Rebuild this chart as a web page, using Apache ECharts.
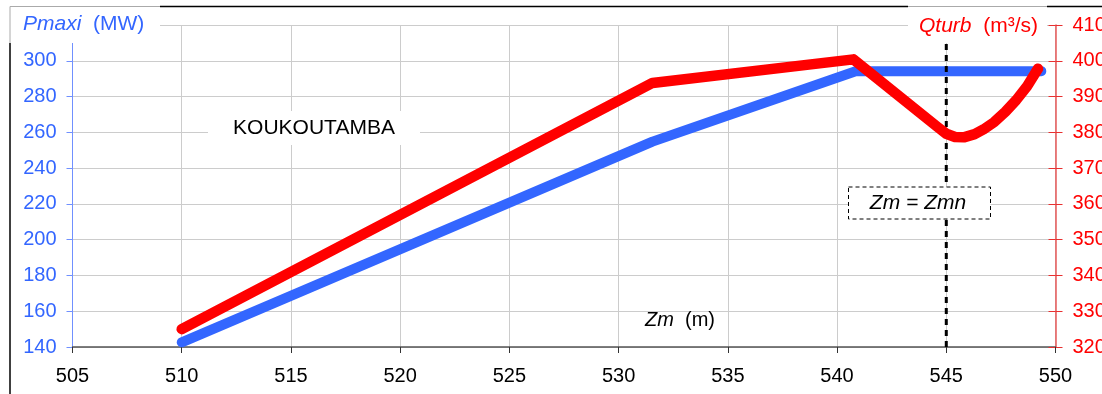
<!DOCTYPE html>
<html>
<head>
<meta charset="utf-8">
<script src="https://cdn.jsdelivr.net/npm/echarts@6/dist/echarts.min.js"></script>
<style>
html,body{margin:0;padding:0;background:#fff;}
#chart{width:1102px;height:394px;}
</style>
</head>
<body>
<div id="chart"></div>
<script>
// ---- data ----
const zmPmaxi = [510, 531.55, 540.85, 549.35];
const pmaxi = [142.6, 254.8, 294.2, 294.2];
const zmQturb = [510, 531.55, 540.75, 544.6, 545.0, 545.4, 545.8, 546.3, 546.7, 547.2, 547.7, 548.2, 548.7, 549.2];
const qturb = [325, 393.8, 400.4, 381.5, 379.6, 378.7, 378.6, 379.5, 380.8, 382.9, 385.7, 389.0, 392.9, 397.8];
const zmnLineX = [545, 545];
const zmnLineY = [140, 310];
const xTicks = { min: 505, max: 550, interval: 5 };
const leftTicks = { min: 140, max: 320, interval: 20 };
const rightTicks = { min: 320, max: 410, interval: 10 };

const FONT = '"Liberation Sans", Arial, sans-serif';
const BLUE = '#3366ff';
const RED = '#ff0000';

const zip = (a, b) => a.map((v, i) => [v, b[i]]);

const chart = echarts.init(document.getElementById('chart'));
chart.setOption({
  animation: false,
  backgroundColor: '#fff',
  grid: { left: 72.5, right: 46.5, top: 25, bottom: 47, containLabel: false, outerBoundsMode: 'none' },
  xAxis: {
    type: 'value', min: xTicks.min, max: xTicks.max, interval: xTicks.interval,
    axisLine: { show: true, onZero: false, lineStyle: { color: '#555', width: 1.5 } },
    axisTick: { show: true, length: 6, lineStyle: { color: '#333' } },
    axisLabel: { color: '#000', fontSize: 20, fontFamily: FONT, margin: 19 },
    splitLine: { show: true, lineStyle: { color: '#cccccc', width: 1 } }
  },
  yAxis: [
    {
      type: 'value', position: 'left', min: leftTicks.min, max: leftTicks.max, interval: leftTicks.interval,
      axisLine: { show: true, lineStyle: { color: '#7090ff', width: 1 } },
      axisTick: { show: true, length: 6, lineStyle: { color: '#7090ff' } },
      axisLabel: { color: BLUE, fontSize: 20, fontFamily: FONT, margin: 16, showMaxLabel: false },
      splitLine: { show: true, lineStyle: { color: '#cccccc', width: 1 } }
    },
    {
      type: 'value', position: 'right', min: rightTicks.min, max: rightTicks.max, interval: rightTicks.interval,
      axisLine: { show: true, lineStyle: { color: '#e85a5a', width: 1.5 } },
      axisTick: { show: true, length: 7, lineStyle: { color: '#e83030' } },
      axisLabel: { color: RED, fontSize: 20, fontFamily: FONT, margin: 17 },
      splitLine: { show: false }
    },
    {
      type: 'value', position: 'right', min: rightTicks.min, max: rightTicks.max, interval: rightTicks.interval,
      axisLine: { show: false },
      axisTick: { show: true, inside: true, length: 7, lineStyle: { color: '#e83030' } },
      axisLabel: { show: false },
      splitLine: { show: false }
    }
  ],
  series: [
    {
      name: 'Pmaxi', type: 'line', yAxisIndex: 0, data: zip(zmPmaxi, pmaxi),
      showSymbol: false, symbol: 'none', z: 3,
      lineStyle: { color: BLUE, width: 10, cap: 'round', join: 'round' }
    },
    {
      name: 'Zmn', type: 'line', yAxisIndex: 0, data: zip(zmnLineX, zmnLineY),
      showSymbol: false, symbol: 'none', z: 4,
      lineStyle: { color: '#000', width: 3, type: [6, 5] }
    },
    {
      name: 'Qturb', type: 'line', yAxisIndex: 1, data: zip(zmQturb, qturb),
      showSymbol: false, symbol: 'none', z: 5,
      lineStyle: { color: RED, width: 10.5, cap: 'round', join: 'round' }
    }
  ],
  graphic: [
    // frame
    { type: 'polyline', z: 50, shape: { points: [[10, 394], [10, 43]] }, style: { stroke: '#000', lineWidth: 1.5, fill: null } },
    { type: 'polyline', z: 50, shape: { points: [[160, 6.5], [908, 6.5]] }, style: { stroke: '#000', lineWidth: 1.5, fill: null } },
    { type: 'polyline', z: 50, shape: { points: [[1047, 6.5], [1102, 6.5]] }, style: { stroke: '#000', lineWidth: 1.5, fill: null } },
    // left title box
    { type: 'rect', z: 60, shape: { x: 10, y: 6.5, width: 150, height: 36.5 }, style: { fill: '#fff' } },
    { type: 'polyline', z: 61, shape: { points: [[10, 43], [10, 6.5], [160, 6.5]] }, style: { stroke: '#aaa', lineWidth: 1, fill: null } },
    { type: 'text', z: 62, x: 23, y: 24,
      style: { text: '{i|Pmaxi}{n|  (MW)}', fill: BLUE, font: '21px ' + FONT, verticalAlign: 'middle', align: 'left',
        rich: { i: { fontStyle: 'italic', fontSize: 21, fontFamily: FONT, fill: BLUE }, n: { fontSize: 21, fontFamily: FONT, fill: BLUE } } } },
    // right title box
    { type: 'rect', z: 60, shape: { x: 908, y: 6.5, width: 139, height: 36.5 }, style: { fill: '#fff' } },
    { type: 'polyline', z: 61, shape: { points: [[908, 6.5], [1047, 6.5]] }, style: { stroke: '#aaa', lineWidth: 1, fill: null } },
    { type: 'text', z: 62, x: 1038, y: 26,
      style: { text: '{i|Qturb}{n|  (m³/s)}', fill: RED, font: '21px ' + FONT, verticalAlign: 'middle', align: 'right',
        rich: { i: { fontStyle: 'italic', fontSize: 21, fontFamily: FONT, fill: RED }, n: { fontSize: 21, fontFamily: FONT, fill: RED } } } },
    // KOUKOUTAMBA label
    { type: 'rect', z: 60, shape: { x: 208, y: 111, width: 212, height: 34 }, style: { fill: '#fff' } },
    { type: 'text', z: 62, x: 314, y: 128,
      style: { text: 'KOUKOUTAMBA', fill: '#000', font: '21px ' + FONT, align: 'center', verticalAlign: 'middle' } },
    // Zm (m) label
    { type: 'text', z: 62, x: 680, y: 320,
      style: { text: '{i|Zm}{n|  (m)}', fill: '#000', font: '20px ' + FONT, align: 'center', verticalAlign: 'middle',
        rich: { i: { fontStyle: 'italic', fontSize: 20, fontFamily: FONT, fill: '#000' }, n: { fontSize: 20, fontFamily: FONT, fill: '#000' } } } },
    // Zm = Zmn box
    { type: 'rect', z: 60, shape: { x: 848.5, y: 187, width: 142, height: 32 },
      style: { fill: '#fff', stroke: '#000', lineWidth: 1, lineDash: [4, 3] } },
    { type: 'text', z: 62, x: 918, y: 203,
      style: { text: 'Zm = Zmn', fill: '#000', font: 'italic 21px ' + FONT, align: 'center', verticalAlign: 'middle' } }
  ]
});
</script>
</body>
</html>
